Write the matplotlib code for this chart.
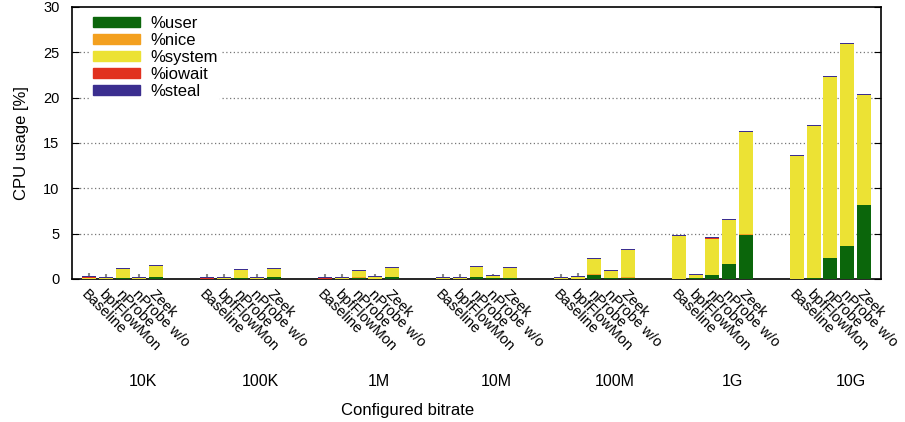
import numpy as np
import matplotlib
matplotlib.use("Agg")
import matplotlib.pyplot as plt
from matplotlib.patches import Patch
import matplotlib.transforms as mtransforms

plt.rcParams['font.family'] = ['Liberation Sans', 'DejaVu Sans']

groups = ['10K', '100K', '1M', '10M', '100M', '1G', '10G']
tools = ['Baseline', 'bpfFlowMon', 'nProbe', 'nProbe w/o', 'Zeek']

# one row per bitrate, one column per tool
user = [
    [0.0, 0.0, 0.1, 0.0, 0.22],
    [0.0, 0.0, 0.1, 0.0, 0.22],
    [0.0, 0.0, 0.1, 0.0, 0.22],
    [0.0, 0.0, 0.22, 0.1, 0.1],
    [0.0, 0.0, 0.48, 0.15, 0.1],
    [0.02, 0.15, 0.44, 1.65, 4.85],
    [0.05, 0.15, 2.35, 3.67, 8.2],
]
nice = [
    [0.05, 0.0, 0.0, 0.0, 0.0],
    [0.0, 0.0, 0.0, 0.0, 0.0],
    [0.0, 0.0, 0.1, 0.0, 0.0],
    [0.0, 0.0, 0.0, 0.0, 0.0],
    [0.0, 0.0, 0.11, 0.0, 0.15],
    [0.0, 0.0, 0.0, 0.0, 0.1],
    [0.0, 0.0, 0.0, 0.0, 0.0],
]
system = [
    [0.08, 0.12, 1.0, 0.12, 1.22],
    [0.02, 0.12, 0.9, 0.12, 0.89],
    [0.02, 0.12, 0.69, 0.22, 1.0],
    [0.12, 0.12, 1.11, 0.22, 1.12],
    [0.12, 0.27, 1.62, 0.74, 2.96],
    [4.71, 0.3, 4.0, 4.87, 11.25],
    [13.52, 16.73, 19.93, 22.23, 12.1],
]
iowait = [
    [0.1, 0.0, 0.0, 0.0, 0.0],
    [0.1, 0.0, 0.0, 0.0, 0.0],
    [0.1, 0.0, 0.0, 0.0, 0.0],
    [0.0, 0.0, 0.0, 0.0, 0.0],
    [0.0, 0.0, 0.0, 0.0, 0.0],
    [0.0, 0.0, 0.12, 0.0, 0.0],
    [0.0, 0.0, 0.0, 0.0, 0.0],
]
steal = [
    [0.1, 0.1, 0.1, 0.1, 0.1],
    [0.1, 0.1, 0.1, 0.1, 0.1],
    [0.1, 0.1, 0.1, 0.1, 0.1],
    [0.1, 0.1, 0.1, 0.1, 0.1],
    [0.1, 0.1, 0.1, 0.1, 0.1],
    [0.15, 0.1, 0.08, 0.1, 0.1],
    [0.1, 0.1, 0.1, 0.1, 0.1],
]
err = [
    [0.35, 0.35, 0.0, 0.35, 0.0],
    [0.3, 0.3, 0.0, 0.3, 0.0],
    [0.3, 0.3, 0.0, 0.25, 0.0],
    [0.35, 0.35, 0.0, 0.12, 0.0],
    [0.35, 0.25, 0.0, 0.0, 0.0],
    [0.0, 0.0, 0.0, 0.0, 0.0],
    [0.0, 0.0, 0.0, 0.0, 0.0],
]

series = [('%user', user, '#0b660b'),
          ('%nice', nice, '#f3a01f'),
          ('%system', system, '#ece234'),
          ('%iowait', iowait, '#e1311f'),
          ('%steal', steal, '#3b2e8f')]

fig = plt.figure(figsize=(9.05, 4.22), dpi=100)
ax = fig.add_axes([72/905, 1-279/422, (881-72)/905, (279-7)/422])

n_tools = len(tools)
x = np.array([7*g + i for g in range(len(groups)) for i in range(n_tools)], dtype=float)
bottom = np.zeros(len(x))
for name, vals, col in series:
    v = np.array(vals).ravel()
    ax.bar(x, v, width=0.83, bottom=bottom, color=col, zorder=3, linewidth=0)
    bottom += v

e = np.array(err).ravel()
m = e > 0
ax.errorbar(x[m], bottom[m], yerr=[np.zeros(m.sum()), e[m]], fmt='none',
            ecolor='#888888', elinewidth=1.5, capsize=0, zorder=2)

ax.set_xlim(-1, 47)
ax.set_ylim(0, 30)
ax.set_yticks(range(0, 31, 5))
ax.tick_params(axis='y', direction='in', length=5, right=True, labelsize=10.5, pad=9)
ax.set_xticks(x)
ax.set_xticklabels(tools * len(groups), rotation=-45, ha='left', va='top',
                   rotation_mode='anchor', fontsize=10.5)
ax.tick_params(axis='x', length=0, pad=6)
for s in ax.spines.values():
    s.set_linewidth(1.2)

for yv in range(5, 30, 5):
    ax.axhline(yv, color='#777777', linestyle=(0, (1, 2)), linewidth=0.9, zorder=1)

trans = mtransforms.blended_transform_factory(ax.transData, ax.transAxes)
for g, name in enumerate(groups):
    ax.text(7*g + 3.2, -0.375, name, transform=trans, ha='center', va='center', fontsize=11.5)

fig.text(408/905, 1-410/422, 'Configured bitrate', ha='center', va='center', fontsize=12)
ax.set_ylabel('CPU usage [%]', fontsize=12, labelpad=10)

handles = [Patch(color=c, label=n) for n, _, c in series]
leg = ax.legend(handles=handles, loc='upper left', bbox_to_anchor=(0.024, 0.972),
                frameon=True, fontsize=12, handlelength=2.8, handleheight=0.55,
                labelspacing=0.12, handletextpad=0.65, borderaxespad=0, borderpad=0.1)
leg.get_frame().set_edgecolor('none')
leg.get_frame().set_alpha(1)
leg.set_zorder(5)

fig.savefig('out.png', dpi=100)
